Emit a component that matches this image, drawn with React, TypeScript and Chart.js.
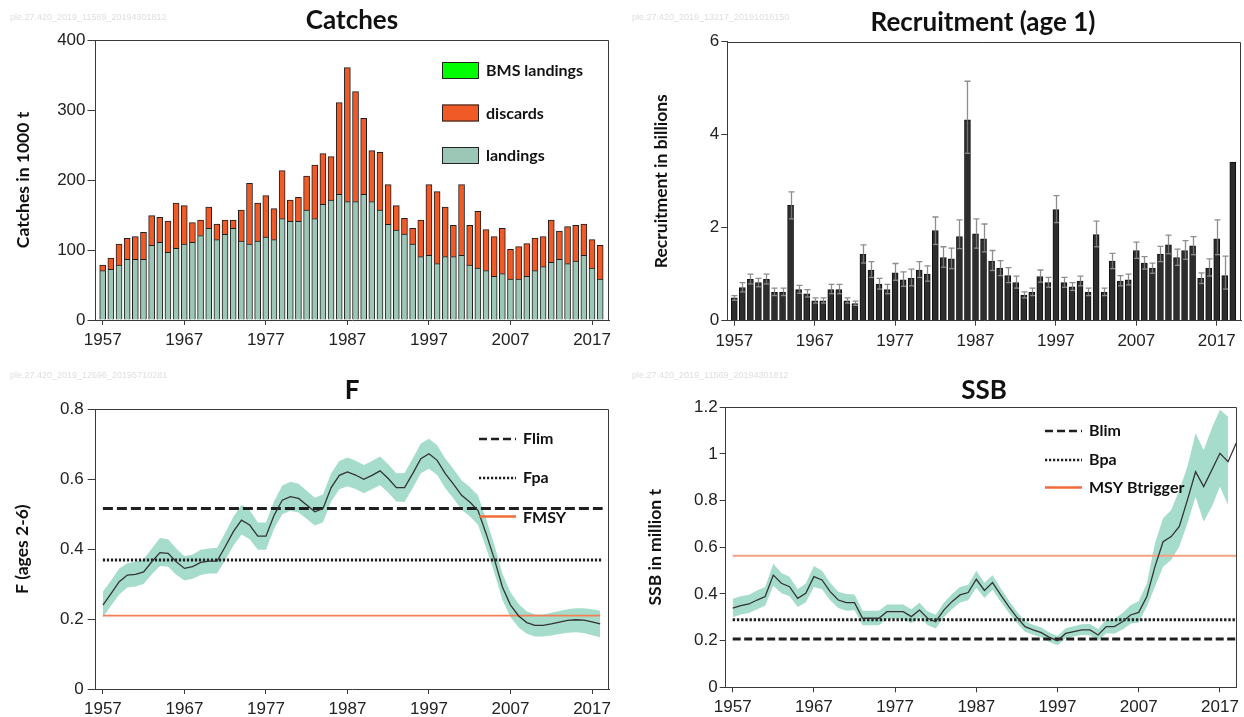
import React, { useEffect, useRef } from "react";
import { Chart, registerables } from "chart.js";

Chart.register(...registerables);

const FONT = "'Liberation Sans', Arial, sans-serif";
const BOLD = "Lato, 'Open Sans', sans-serif";
const AXIS = "#3a3a3a";
const BAND = "#a6dccb";

const FIRST_YEAR = 1957;
const xTickYears = [1957, 1967, 1977, 1987, 1997, 2007, 2017];

// Catches (1000 t), 1957-2018
const catchLandings = [
  70.5, 72.4, 78.6, 86.7, 86.7, 86.7, 106.7, 111, 96.7, 102.4,
  108.6, 111, 120.5, 131, 114.8, 122.4, 131, 112.9, 108.6, 112.9,
  118.6, 114.8, 144.8, 141, 141, 157.1, 144.8, 165.2, 171.4, 179.5,
  169, 169, 179.5, 169, 157.1, 136.7, 128.6, 122.9, 108.6, 90.5,
  92.4, 80.5, 90.5, 90.5, 92.4, 78.6, 74.3, 70.5, 62.4, 66.2,
  58.6, 58.6, 62.4, 70.5, 76.2, 82.4, 86.7, 80.5, 84.3, 92.4,
  74.3, 58.6,
];
const catchDiscards = [
  8.1, 16.2, 30, 30, 32.3, 38.5, 42.3, 35.7, 44.7, 64.7,
  54.7, 28, 22.4, 30.4, 22.3, 20.5, 11.9, 44.2, 86.6, 54.2,
  59, 44.2, 68.5, 30.4, 34.2, 48.6, 76.6, 72.4, 61.9, 131,
  191.5, 157.2, 108.5, 72.9, 82.4, 56.6, 34.7, 22.3, 22.4, 52.4,
  100.9, 102.8, 70.9, 44.7, 100.9, 56.6, 80.9, 58.5, 56.6, 64.8,
  42.4, 46.2, 46.6, 46.6, 42.8, 60.5, 40.4, 52.8, 50.9, 44.7,
  40.5, 48.1,
];
const catchBMS = [
  0, 0, 0, 0, 0, 0, 0, 0, 0, 0, 0, 0, 0, 0, 0, 0, 0, 0, 0, 0, 0, 0, 0, 0, 0, 0, 0, 0, 0, 0, 0,
  0, 0, 0, 0, 0, 0, 0, 0, 0, 0, 0, 0, 0, 0, 0, 0, 0, 0, 0, 0, 0, 0, 0, 0, 0, 0, 0, 0, 0, 0, 0,
];

// Recruitment (billions), 1957-2019
const recValues = [
  0.49, 0.71, 0.89, 0.82, 0.89, 0.61, 0.61, 2.48, 0.67, 0.58,
  0.43, 0.43, 0.67, 0.67, 0.43, 0.37, 1.43, 1.09, 0.79, 0.67,
  1.03, 0.88, 0.91, 1.09, 1.0, 1.94, 1.36, 1.33, 1.81, 4.32,
  1.87, 1.76, 1.28, 1.13, 0.97, 0.82, 0.55, 0.61, 0.95, 0.82,
  2.39, 0.82, 0.73, 0.85, 0.61, 1.85, 0.61, 1.28, 0.85, 0.88,
  1.51, 1.24, 1.13, 1.43, 1.63, 1.36, 1.51, 1.61, 0.91, 1.13,
  1.76, 0.97, 3.41,
];
const recHigh = [
  0.54, 0.82, 1.0, 0.91, 1.0, 0.7, 0.7, 2.77, 0.76, 0.67,
  0.49, 0.49, 0.78, 0.78, 0.49, 0.42, 1.63, 1.27, 0.91, 0.78,
  1.23, 1.05, 1.11, 1.27, 1.18, 2.23, 1.59, 1.56, 2.17, 5.15,
  2.19, 2.08, 1.51, 1.29, 1.14, 0.96, 0.62, 0.7, 1.09, 0.93,
  2.69, 0.93, 0.82, 0.96, 0.7, 2.14, 0.7, 1.45, 0.97, 1.0,
  1.69, 1.38, 1.24, 1.6, 1.84, 1.54, 1.72, 1.81, 1.03, 1.33,
  2.17, 1.39, null,
];
const recLow = [
  0.44, 0.62, 0.79, 0.73, 0.79, 0.54, 0.54, 2.19, 0.59, 0.51,
  0.38, 0.38, 0.58, 0.58, 0.38, 0.33, 1.24, 0.93, 0.68, 0.58,
  0.87, 0.74, 0.75, 0.93, 0.85, 1.64, 1.15, 1.12, 1.55, 3.6,
  1.56, 1.48, 1.08, 0.97, 0.82, 0.7, 0.49, 0.54, 0.83, 0.72,
  2.11, 0.72, 0.65, 0.75, 0.54, 1.59, 0.54, 1.12, 0.75, 0.77,
  1.34, 1.11, 1.02, 1.27, 1.44, 1.19, 1.32, 1.42, 0.8, 0.96,
  1.42, 0.68, null,
];

// F (ages 2-6), 1957-2018
const fValues = [
  0.24, 0.273, 0.307, 0.326, 0.328, 0.335, 0.364, 0.39, 0.388, 0.364,
  0.345, 0.35, 0.362, 0.366, 0.366, 0.407, 0.45, 0.483, 0.469, 0.437,
  0.437, 0.497, 0.54, 0.55, 0.545, 0.526, 0.507, 0.516, 0.576, 0.611,
  0.621, 0.612, 0.6, 0.611, 0.624, 0.602, 0.576, 0.576, 0.616, 0.659,
  0.673, 0.654, 0.616, 0.586, 0.554, 0.535, 0.511, 0.445, 0.373, 0.292,
  0.24, 0.209, 0.19, 0.182, 0.182, 0.186, 0.191, 0.196, 0.198, 0.197,
  0.192, 0.186,
];
const fHigh = [
  0.278, 0.31, 0.345, 0.36, 0.364, 0.372, 0.402, 0.432, 0.428, 0.402,
  0.38, 0.385, 0.398, 0.402, 0.404, 0.447, 0.492, 0.527, 0.512, 0.476,
  0.476, 0.537, 0.582, 0.593, 0.587, 0.567, 0.547, 0.556, 0.617, 0.652,
  0.662, 0.653, 0.641, 0.652, 0.665, 0.643, 0.617, 0.618, 0.659, 0.702,
  0.716, 0.697, 0.659, 0.629, 0.597, 0.578, 0.554, 0.487, 0.413, 0.33,
  0.276, 0.243, 0.222, 0.213, 0.213, 0.218, 0.223, 0.228, 0.231, 0.231,
  0.228, 0.224,
];
const fLow = [
  0.205, 0.238, 0.27, 0.29, 0.293, 0.3, 0.328, 0.352, 0.35, 0.327,
  0.31, 0.315, 0.326, 0.33, 0.33, 0.368, 0.41, 0.442, 0.428, 0.398,
  0.398, 0.458, 0.5, 0.51, 0.505, 0.486, 0.468, 0.477, 0.536, 0.571,
  0.58, 0.572, 0.56, 0.571, 0.583, 0.562, 0.536, 0.535, 0.575, 0.617,
  0.63, 0.612, 0.574, 0.545, 0.513, 0.494, 0.47, 0.405, 0.334, 0.255,
  0.205, 0.176, 0.158, 0.15, 0.15, 0.153, 0.157, 0.161, 0.162, 0.16,
  0.154, 0.148,
];

// SSB (million t), 1957-2019 (bands to 2018)
const ssbValues = [
  0.339, 0.35, 0.357, 0.374, 0.389, 0.481, 0.446, 0.431, 0.381, 0.403,
  0.474, 0.46, 0.41, 0.374, 0.363, 0.363, 0.296, 0.296, 0.296, 0.324,
  0.324, 0.324, 0.303, 0.331, 0.296, 0.281, 0.331, 0.367, 0.396, 0.406,
  0.463, 0.415, 0.449, 0.396, 0.346, 0.3, 0.26, 0.246, 0.234, 0.214,
  0.2, 0.231, 0.239, 0.246, 0.246, 0.224, 0.26, 0.26, 0.281, 0.31,
  0.321, 0.389, 0.517, 0.624, 0.646, 0.689, 0.803, 0.924, 0.86, 0.931,
  1.003, 0.967, 1.046,
];
const ssbHigh = [
  0.38, 0.39, 0.397, 0.415, 0.43, 0.53, 0.49, 0.474, 0.42, 0.445,
  0.52, 0.5, 0.448, 0.41, 0.4, 0.398, 0.328, 0.328, 0.328, 0.355,
  0.355, 0.355, 0.334, 0.362, 0.326, 0.311, 0.362, 0.4, 0.43, 0.44,
  0.5, 0.448, 0.48, 0.425, 0.372, 0.325, 0.283, 0.268, 0.256, 0.235,
  0.22, 0.253, 0.262, 0.27, 0.271, 0.25, 0.29, 0.293, 0.318, 0.352,
  0.37, 0.445, 0.617, 0.724, 0.76, 0.846, 0.946, 1.089, 1.017, 1.11,
  1.19, 1.16,
];
const ssbLow = [
  0.3, 0.312, 0.318, 0.334, 0.35, 0.435, 0.403, 0.39, 0.344, 0.363,
  0.43, 0.42, 0.373, 0.34, 0.328, 0.33, 0.266, 0.266, 0.266, 0.294,
  0.294, 0.294, 0.274, 0.301, 0.267, 0.252, 0.3, 0.335, 0.363, 0.373,
  0.427, 0.383, 0.418, 0.367, 0.32, 0.276, 0.238, 0.225, 0.213, 0.194,
  0.18, 0.21, 0.218, 0.224, 0.223, 0.2, 0.232, 0.23, 0.248, 0.272,
  0.278, 0.346, 0.431, 0.517, 0.546, 0.603, 0.703, 0.817, 0.71, 0.774,
  0.86, 0.781,
];

// Reference points
const FLIM = 0.516;
const FPA = 0.369;
const FMSY = 0.21;
const BLIM = 0.207;
const BPA = 0.29;
const MSY_BTRIGGER = 0.564;

const toXY = (arr: (number | null)[]) =>
  arr.map((v, i) => ({ x: FIRST_YEAR + i, y: v }));
const refLine = (v: number, x0: number, x1: number) => [
  { x: x0, y: v },
  { x: x1, y: v },
];

type Panel = { x: number; y: number; w: number; h: number };
type Area = { left: number; right: number; top: number; bottom: number };

function padFor(p: Panel, a: Area, yW: number, xH: number) {
  return {
    left: a.left - p.x - yW,
    top: a.top - p.y,
    right: p.x + p.w - a.right,
    bottom: p.y + p.h - a.bottom - xH,
  };
}

function xScale(min: number, max: number, xH: number, stacked = false) {
  return {
    type: "linear",
    min,
    max,
    stacked,
    offset: false,
    afterBuildTicks: (axis: any) => {
      axis.ticks = xTickYears.map((v) => ({ value: v }));
    },
    afterFit: (axis: any) => {
      axis.height = xH;
    },
    grid: {
      display: true,
      offset: false,
      drawOnChartArea: false,
      drawTicks: true,
      tickLength: 5,
      color: AXIS,
    },
    border: { display: true, color: AXIS, width: 1 },
    ticks: {
      font: { family: FONT, size: 17 },
      color: "#222",
      padding: 5,
      maxRotation: 0,
      autoSkip: false,
      callback: (v: any) => String(v),
    },
  };
}

function yScale(
  min: number,
  max: number,
  step: number,
  title: string,
  titlePad: number,
  yW: number,
  tickLen: number,
  tickPad: number,
  stacked = false
) {
  return {
    type: "linear",
    min,
    max,
    stacked,
    afterFit: (axis: any) => {
      axis.width = yW;
    },
    ticks: {
      stepSize: step,
      font: { family: FONT, size: 17 },
      color: "#222",
      padding: tickPad,
      callback: (v: any) => String(Math.round(Number(v) * 10) / 10),
    },
    grid: {
      display: true,
      drawOnChartArea: false,
      drawTicks: true,
      tickLength: tickLen,
      color: AXIS,
    },
    border: { display: true, color: AXIS, width: 1 },
    title: {
      display: true,
      text: title,
      font: { family: BOLD, size: 17.5, weight: "bold" },
      color: "#111",
      padding: { top: titlePad, bottom: 0 },
    },
  };
}

const framePlugin = {
  id: "frame",
  afterDraw(chart: any) {
    const { ctx, chartArea } = chart;
    ctx.save();
    ctx.strokeStyle = AXIS;
    ctx.lineWidth = 1;
    const t = Math.round(chartArea.top) + 0.5;
    const r = Math.round(chartArea.right) - 0.5;
    ctx.beginPath();
    ctx.moveTo(chartArea.left, t);
    ctx.lineTo(r, t);
    ctx.lineTo(r, chartArea.bottom);
    ctx.stroke();
    ctx.restore();
  },
};

function decor(draw: (ctx: CanvasRenderingContext2D, chart: any) => void) {
  return {
    id: "decor",
    afterDraw(chart: any) {
      const ctx = chart.ctx as CanvasRenderingContext2D;
      ctx.save();
      draw(ctx, chart);
      ctx.restore();
    },
  };
}

function drawTitle(ctx: CanvasRenderingContext2D, text: string, x: number, y: number) {
  ctx.font = `bold 26px ${BOLD}`;
  ctx.fillStyle = "#111";
  ctx.textAlign = "center";
  ctx.textBaseline = "middle";
  ctx.fillText(text, x, y);
}

function drawWatermark(ctx: CanvasRenderingContext2D, text: string) {
  ctx.font = `9px ${FONT}`;
  ctx.fillStyle = "#dedede";
  ctx.textAlign = "left";
  ctx.textBaseline = "middle";
  ctx.fillText(text, 10, 18);
}

function legendText(ctx: CanvasRenderingContext2D, text: string, x: number, y: number) {
  ctx.font = `bold 16px ${BOLD}`;
  ctx.fillStyle = "#111";
  ctx.textAlign = "left";
  ctx.textBaseline = "middle";
  ctx.fillText(text, x, y);
}

function legendLine(
  ctx: CanvasRenderingContext2D,
  x1: number,
  x2: number,
  y: number,
  color: string,
  width: number,
  dash: number[]
) {
  ctx.save();
  ctx.strokeStyle = color;
  ctx.lineWidth = width;
  ctx.setLineDash(dash);
  ctx.beginPath();
  ctx.moveTo(x1, y);
  ctx.lineTo(x2, y);
  ctx.stroke();
  ctx.restore();
}

function legendBox(ctx: CanvasRenderingContext2D, x: number, y: number, color: string) {
  ctx.fillStyle = color;
  ctx.fillRect(x, y - 8.5, 37, 17);
  ctx.strokeStyle = "#222";
  ctx.lineWidth = 1;
  ctx.strokeRect(x + 0.5, y - 8.5 + 0.5, 36, 16);
}

const LANDINGS = "#9cc6b6";
const DISCARDS = "#ef5a26";
const BMS = "#00ff00";
const ORANGE = "#f47e55";

// ---------------- Panels ----------------
const P1: Panel = { x: 0, y: 0, w: 622, h: 358 };
const P2: Panel = { x: 622, y: 0, w: 622, h: 358 };
const P3: Panel = { x: 0, y: 358, w: 622, h: 359 };
const P4: Panel = { x: 622, y: 358, w: 622, h: 359 };

function catchesConfig(): any {
  const area = { left: 95.5, right: 609, top: 40, bottom: 320 };
  const yW = 95;
  const xH = 38;
  return {
    type: "bar",
    data: {
      datasets: [
        {
          label: "landings",
          data: toXY(catchLandings),
          backgroundColor: LANDINGS,
          borderColor: "#1e1e1e",
          borderWidth: 1,
          barThickness: 6,
        },
        {
          label: "discards",
          data: toXY(catchDiscards),
          backgroundColor: DISCARDS,
          borderColor: "#1e1e1e",
          borderWidth: 1,
          barThickness: 6,
        },
        {
          label: "BMS landings",
          data: toXY(catchBMS),
          backgroundColor: BMS,
          borderWidth: 0,
          barThickness: 6,
          hidden: true,
        },
      ],
    },
    options: {
      responsive: false,
      animation: false,
      events: [],
      layout: { padding: padFor(P1, area, yW, xH), autoPadding: false },
      plugins: { legend: { display: false }, tooltip: { enabled: false } },
      scales: {
        x: xScale(1956.117, 2019.08, xH, true),
        y: yScale(0, 400, 100, "Catches in 1000 t", 12.5, yW, 8, 2, true),
      },
    },
    plugins: [
      framePlugin,
      decor((ctx) => {
        drawWatermark(ctx, "ple.27.420_2019_11569_20194301812");
        drawTitle(ctx, "Catches", 352, 21);
        legendBox(ctx, 442, 70.5, BMS);
        legendText(ctx, "BMS landings", 486, 71);
        legendBox(ctx, 442, 113, DISCARDS);
        legendText(ctx, "discards", 486, 113.5);
        legendBox(ctx, 442, 155.5, LANDINGS);
        legendText(ctx, "landings", 486, 156);
      }),
    ],
  };
}

function recruitConfig(): any {
  const area = { left: 727.3, right: 1241, top: 41.7, bottom: 320.7 };
  const yW = 100;
  const xH = 37;
  const errPlugin = {
    id: "errbars",
    afterDatasetsDraw(chart: any) {
      const meta = chart.getDatasetMeta(0);
      const ys = chart.scales.y;
      const ctx = chart.ctx as CanvasRenderingContext2D;
      ctx.save();
      meta.data.forEach((bar: any, i: number) => {
        const hi = recHigh[i];
        const lo = recLow[i];
        if (hi == null || lo == null) return;
        const x = Math.round(bar.x) + 0.5;
        const yHi = ys.getPixelForValue(hi);
        const yLo = ys.getPixelForValue(lo);
        const yV = ys.getPixelForValue(recValues[i]);
        ctx.lineWidth = 1.3;
        ctx.strokeStyle = "#8d8d8d";
        ctx.beginPath();
        ctx.moveTo(x, yV);
        ctx.lineTo(x, yHi);
        ctx.moveTo(x - 3, yHi);
        ctx.lineTo(x + 3, yHi);
        ctx.stroke();
        ctx.strokeStyle = "#707070";
        ctx.beginPath();
        ctx.moveTo(x, yV);
        ctx.lineTo(x, yLo);
        ctx.stroke();
        ctx.strokeStyle = "#8a8a8a";
        ctx.beginPath();
        ctx.moveTo(x - 2.5, yLo);
        ctx.lineTo(x + 2.5, yLo);
        ctx.stroke();
      });
      ctx.restore();
    },
  };
  return {
    type: "bar",
    data: {
      datasets: [
        {
          label: "Recruitment",
          data: toXY(recValues),
          backgroundColor: "#2d2d2d",
          borderColor: "#111",
          borderWidth: 1,
          barThickness: 6,
        },
      ],
    },
    options: {
      responsive: false,
      animation: false,
      events: [],
      layout: { padding: padFor(P2, area, yW, xH), autoPadding: false },
      plugins: { legend: { display: false }, tooltip: { enabled: false } },
      scales: {
        x: xScale(1956.13, 2020.02, xH),
        y: yScale(0, 6, 2, "Recruitment in billions", 23.7, yW, 6, 2),
      },
    },
    plugins: [
      framePlugin,
      errPlugin,
      decor((ctx) => {
        drawWatermark(ctx, "ple.27.420_2019_13217_20191016150");
        drawTitle(ctx, "Recruitment (age 1)", 361, 23);
      }),
    ],
  };
}

function fConfig(): any {
  const area = { left: 95.7, right: 609, top: 409.3, bottom: 689 };
  const yW = 95;
  const xH = 28;
  return {
    type: "line",
    data: {
      datasets: [
        {
          label: "F",
          data: toXY(fValues),
          borderColor: "#333",
          borderWidth: 1.3,
          pointRadius: 0,
          fill: false,
        },
        {
          label: "Flim",
          data: refLine(FLIM, 1957, 2018.3),
          borderColor: "#1f1f1f",
          borderWidth: 3,
          borderDash: [10, 4],
          pointRadius: 0,
          fill: false,
        },
        {
          label: "Fpa",
          data: refLine(FPA, 1957, 2018.3),
          borderColor: "#1f1f1f",
          borderWidth: 3,
          borderDash: [2.2, 1.8],
          pointRadius: 0,
          fill: false,
        },
        {
          label: "FMSY",
          data: refLine(FMSY, 1957, 2018),
          borderColor: ORANGE,
          borderWidth: 1.6,
          pointRadius: 0,
          fill: false,
        },
        {
          label: "F high",
          data: toXY(fHigh),
          borderWidth: 0,
          borderColor: "rgba(0,0,0,0)",
          backgroundColor: BAND,
          pointRadius: 0,
          fill: "+1",
        },
        {
          label: "F low",
          data: toXY(fLow),
          borderWidth: 0,
          borderColor: "rgba(0,0,0,0)",
          pointRadius: 0,
          fill: false,
        },
      ],
    },
    options: {
      responsive: false,
      animation: false,
      events: [],
      layout: { padding: padFor(P3, area, yW, xH), autoPadding: false },
      plugins: { legend: { display: false }, tooltip: { enabled: false } },
      scales: {
        x: xScale(1956.117, 2019.08, xH),
        y: yScale(0, 0.8, 0.2, "F (ages 2-6)", 11.3, yW, 8, 4),
      },
    },
    plugins: [
      framePlugin,
      decor((ctx) => {
        drawWatermark(ctx, "ple.27.420_2019_12696_20195710281");
        drawTitle(ctx, "F", 352, 33);
        legendLine(ctx, 479, 516, 81, "#1f1f1f", 2.5, [8, 4]);
        legendText(ctx, "Flim", 523, 81);
        legendLine(ctx, 479, 516, 120, "#1f1f1f", 2.5, [2.2, 1.8]);
        legendText(ctx, "Fpa", 523, 120);
        legendLine(ctx, 479, 516, 158.5, "#f26b3a", 2.5, []);
        legendText(ctx, "FMSY", 523, 160);
      }),
    ],
  };
}

function ssbConfig(): any {
  const area = { left: 725.7, right: 1239, top: 407.3, bottom: 687.3 };
  const yW = 100;
  const xH = 29;
  return {
    type: "line",
    data: {
      datasets: [
        {
          label: "SSB",
          data: toXY(ssbValues),
          borderColor: "#333",
          borderWidth: 1.3,
          pointRadius: 0,
          fill: false,
        },
        {
          label: "Blim",
          data: refLine(BLIM, 1957, 2019.2),
          borderColor: "#1f1f1f",
          borderWidth: 3,
          borderDash: [8, 3.5],
          pointRadius: 0,
          fill: false,
        },
        {
          label: "Bpa",
          data: refLine(BPA, 1957, 2019.2),
          borderColor: "#1f1f1f",
          borderWidth: 3,
          borderDash: [2.4, 1.8],
          pointRadius: 0,
          fill: false,
        },
        {
          label: "MSY Btrigger",
          data: refLine(MSY_BTRIGGER, 1957, 2019),
          borderColor: "#f6a083",
          borderWidth: 2,
          pointRadius: 0,
          fill: false,
        },
        {
          label: "SSB high",
          data: toXY(ssbHigh),
          borderWidth: 0,
          borderColor: "rgba(0,0,0,0)",
          backgroundColor: BAND,
          pointRadius: 0,
          fill: "+1",
        },
        {
          label: "SSB low",
          data: toXY(ssbLow),
          borderWidth: 0,
          borderColor: "rgba(0,0,0,0)",
          pointRadius: 0,
          fill: false,
        },
      ],
    },
    options: {
      responsive: false,
      animation: false,
      events: [],
      layout: { padding: padFor(P4, area, yW, xH), autoPadding: false },
      plugins: { legend: { display: false }, tooltip: { enabled: false } },
      scales: {
        x: xScale(1956.14, 2019.05, xH),
        y: yScale(0, 1.2, 0.2, "SSB in million t", 19.3, yW, 6, 2),
      },
    },
    plugins: [
      framePlugin,
      decor((ctx) => {
        drawWatermark(ctx, "ple.27.420_2019_11569_20194301812");
        drawTitle(ctx, "SSB", 362, 33);
        legendLine(ctx, 423, 460, 73, "#1f1f1f", 2.5, [8, 4]);
        legendText(ctx, "Blim", 467, 73);
        legendLine(ctx, 423, 460, 102, "#1f1f1f", 2.5, [2.2, 1.8]);
        legendText(ctx, "Bpa", 467, 102);
        legendLine(ctx, 423, 460, 129.5, "#f26b3a", 2.5, []);
        legendText(ctx, "MSY Btrigger", 467, 130);
      }),
    ],
  };
}

function ChartPanel({ panel, build }: { panel: Panel; build: () => any }) {
  const ref = useRef<HTMLCanvasElement | null>(null);
  useEffect(() => {
    if (!ref.current) return;
    const chart = new Chart(ref.current, build());
    return () => chart.destroy();
  }, []);
  return (
    <canvas
      ref={ref}
      width={panel.w}
      height={panel.h}
      style={{
        position: "absolute",
        left: panel.x,
        top: panel.y,
        width: panel.w,
        height: panel.h,
        display: "block",
      }}
    />
  );
}

export default function App() {
  return (
    <div
      style={{
        position: "absolute",
        left: 0,
        top: 0,
        width: 1244,
        height: 717,
        background: "#fff",
        overflow: "hidden",
      }}
    >
      <ChartPanel panel={P1} build={catchesConfig} />
      <ChartPanel panel={P2} build={recruitConfig} />
      <ChartPanel panel={P3} build={fConfig} />
      <ChartPanel panel={P4} build={ssbConfig} />
    </div>
  );
}
